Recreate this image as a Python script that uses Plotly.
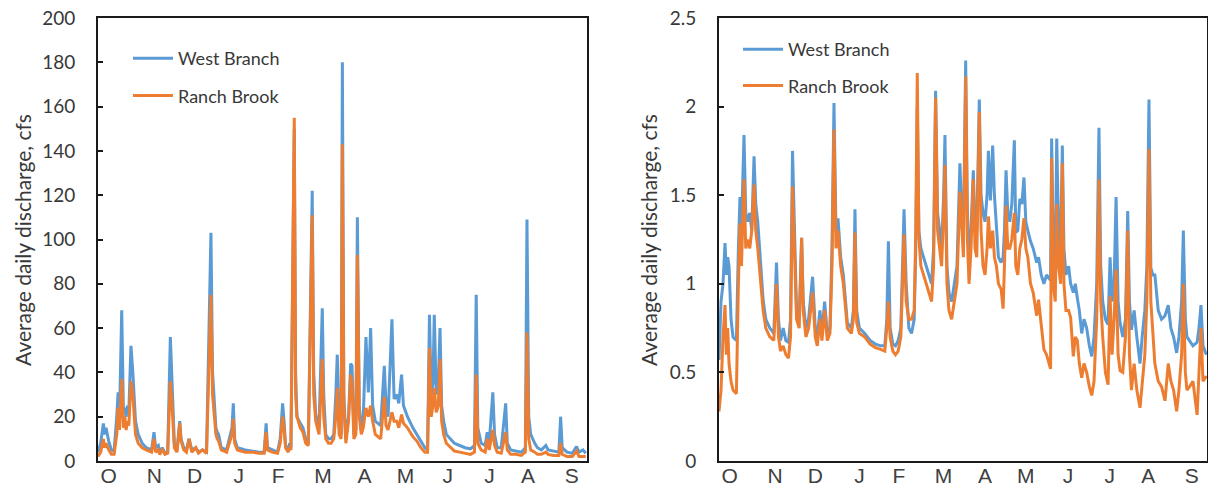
import plotly.graph_objects as go

# ---------------- data ----------------
months = ["O", "N", "D", "J", "F", "M", "A", "M", "J", "J", "A", "S"]
month_pos = [8, 42, 72, 105, 134.5, 168, 199, 229.5, 261, 292.3, 321, 353.6]

# left panel: average daily discharge (cfs), day of water year
left_day = [0, 2, 4, 5, 6, 8, 10, 12, 14, 15, 16, 17.7, 19, 20, 21, 22, 23, 24.6, 26, 28, 30, 33, 36, 40,
            41.8, 43, 45, 46, 48, 50, 52, 54, 55, 57, 59, 61, 62, 64, 66, 68, 70, 73, 75, 78, 81, 84.3,
            85.5, 87, 88, 89, 90, 92, 96, 100, 101, 102, 104, 110, 115, 120, 124, 125.5, 126.5, 130, 134,
            136, 137.8, 139, 140, 142, 143, 144, 146.5, 147.5, 148.5, 151, 153, 155, 157, 159.9, 161,
            162.5, 165, 167.4, 168.5, 170, 172, 174, 176, 177.5, 178.6, 180, 181.5, 182.4, 183.5, 185,
            187, 188.6, 189.6, 191, 192.5, 193.6, 195, 196.5, 198, 200, 201.8, 203.5, 205, 207, 209, 211,
            213.7, 215, 216.5, 219.4, 221, 223, 224.5, 226.6, 228, 231, 235, 238, 241, 244, 246, 247.4,
            248.7, 250, 251, 252.5, 254, 255.3, 256.5, 258, 260, 263, 266, 270, 274, 278, 281, 282.3,
            283.5, 286, 289, 290.5, 292, 294.7, 296, 298, 301, 304.3, 305.5, 308, 312, 316, 319, 320.2,
            321.5, 323, 326, 328, 331, 334.3, 336, 340, 344, 345.3, 346.5, 350, 354, 357.2, 359, 362, 364]
left_west = [4, 8, 17, 12, 15, 9, 5, 4.5, 20, 31, 18, 68, 22, 24, 20, 25, 22, 52, 40, 18, 12, 8, 6, 5,
             13, 6, 7, 4, 6, 3.5, 4, 56, 40, 8, 5, 18, 10, 6, 5, 10, 5, 6, 4, 5, 4, 103,
             40, 23, 15, 13, 12, 6, 5, 15, 26, 10, 6, 5, 4.5, 4, 4, 17, 6, 5, 4,
             10, 26, 17, 7, 5, 8, 6, 150, 40, 20, 17, 15, 10, 8, 122, 40,
             21, 15, 69, 30, 12, 10, 10, 12, 30, 48, 15, 12, 180, 30, 10,
             20, 44, 43, 12, 14, 110, 25, 15, 20, 56, 31, 60, 25, 18, 17, 16,
             43, 25, 20, 64, 28, 30, 26, 39, 25, 20, 15, 12, 9, 6, 5, 66,
             30, 35, 66, 30, 35, 60, 25, 18, 12, 10, 8, 7, 6, 5.5, 7, 75,
             15, 8, 7, 13, 8, 31, 12, 6, 6, 26, 8, 5, 4.5, 4, 6, 109,
             20, 12, 8, 6, 5, 7, 5, 4.5, 4, 20, 6, 4, 3.5, 6.5, 4, 5, 3.5]
left_ranch = [2, 4, 10, 6, 8, 5, 3, 3, 12, 24, 14, 37, 15, 20, 14, 18, 16, 36, 30, 12, 8, 6, 5, 4,
              10, 4, 5, 3, 5, 3, 3.5, 36, 28, 6, 4, 17, 9, 5, 4, 10, 4, 6, 3.5, 5, 3.5, 75,
              30, 18, 12, 10, 9, 5, 4, 12, 19, 8, 5, 4, 4, 3.5, 3.5, 13, 5, 4, 3.5,
              8, 20, 14, 6, 4, 6, 5, 155, 30, 20, 15, 13, 8, 7, 111, 30,
              18, 12, 46, 20, 10, 8, 8, 10, 20, 33, 12, 10, 143, 25, 8,
              18, 39, 35, 10, 12, 93, 20, 12, 15, 24, 20, 25, 18, 12, 11, 10,
              29, 16, 14, 22, 18, 18, 15, 21, 17, 15, 11, 9, 6, 4, 4, 51,
              20, 25, 33, 22, 25, 46, 18, 12, 8, 6, 4.5, 4, 3.5, 3, 4, 39,
              8, 5, 4, 10, 5, 14, 7, 4, 3.5, 13, 5, 3, 3, 2.5, 4, 58,
              10, 5, 4, 3, 3, 4, 3, 2.5, 2.5, 8, 3, 2, 2, 4.5, 2, 2, 2]

# right panel
right_day = [0, 1.5, 3, 4.5, 5.5, 6.5, 7.5, 9, 10.5, 13, 14.5, 15.7, 16.8, 18.7, 20, 21.5, 23, 24.5, 26.2,
             27.5, 29, 31, 33, 35, 38, 41, 43, 44.5, 46, 48, 50, 52, 53.5, 55, 56.5, 58, 60, 61.8, 63, 65,
             67, 70, 72, 73.5, 75.5, 77, 79, 81, 83, 84.5, 86, 87.5, 89, 91, 93, 96, 99, 100.5, 101.7,
             103, 105, 109, 113, 117, 121, 124, 125.5, 126.7, 128, 130, 132, 134, 136, 137.3, 138.4, 140,
             142, 144, 146, 147.2, 148.3, 149.5, 151, 153, 155, 157, 159, 160.5, 162, 163.5, 165, 166.5,
             168, 169, 170.5, 172, 174, 176, 178, 180.2, 181.5, 182.8, 184.5, 185.8, 187, 188.5, 190.2,
             191.5, 192.8, 194.7, 196, 197.5, 199, 200.5, 201.5, 203, 204.7, 206, 207.5, 209, 211, 212.5,
             213.5, 214.7, 216, 217.5, 219, 220.9, 222, 223.5, 225, 226.5, 228.1, 229.5, 231, 233, 235,
             237.6, 239, 241, 243, 245, 248, 248.8, 250, 251.5, 252.6, 254, 255.5, 256.8, 258, 259.5,
             261.5, 263, 265, 266.5, 268, 269.5, 271.3, 273, 275, 277, 278.8, 280.5, 282.5, 284.2, 285.5,
             287, 289, 291, 292.5, 294, 295.5, 297, 298.5, 300, 302, 304, 305.7, 307, 308.5, 310.5, 312.5,
             314.9, 316.5, 318.5, 320, 321.6, 323, 324.5, 326, 328.5, 331, 333.6, 336, 338, 340, 342.3,
             344, 346, 347.3, 348.8, 350, 352, 354.5, 357.6, 359, 360.5, 362, 364.5]
right_west = [0.57, 0.9, 1.0, 1.23, 1.05, 1.15, 1.1, 0.8, 0.7, 0.68, 1.2, 1.49, 1.3, 1.84, 1.4, 1.35, 1.4, 1.3, 1.72,
              1.45, 1.35, 1.1, 0.91, 0.8, 0.75, 0.72, 1.12, 0.8, 0.68, 0.75, 0.68, 0.67, 0.8, 1.75, 1.2, 0.85, 0.8, 1.26, 0.9, 0.75,
              0.8, 1.04, 0.75, 0.7, 0.85, 0.72, 0.9, 0.72, 0.75, 1.2, 2.02, 1.3, 1.37, 1.15, 1.05, 0.78, 0.75, 0.85, 1.42,
              0.85, 0.75, 0.72, 0.68, 0.66, 0.65, 0.65, 0.8, 1.24, 0.75, 0.66, 0.65, 0.68, 0.75, 1.1, 1.42, 1.0,
              0.75, 0.72, 0.8, 1.2, 2.0, 1.3, 1.2, 1.15, 1.1, 1.05, 1.0, 1.2, 2.09, 1.4, 1.3, 1.2,
              1.5, 1.84, 1.1, 0.95, 0.9, 1.0, 1.1, 1.68, 1.4, 1.25, 2.26, 1.4, 1.15, 1.3, 1.64,
              1.3, 1.3, 2.04, 1.5, 1.4, 1.35, 1.5, 1.75, 1.47, 1.78, 1.5, 1.3, 1.15, 1.12, 1.15,
              1.3, 1.64, 1.4, 1.35, 1.45, 1.81, 1.29, 1.3, 1.48, 1.45, 1.6, 1.35, 1.3, 1.24, 1.2,
              1.12, 1.15, 1.05, 1.0, 1.05, 1.02, 1.82, 1.2, 1.1, 1.82, 1.3, 1.2, 1.78, 1.2, 1.05,
              1.1, 1.0, 0.95, 1.0, 0.92, 0.85, 0.72, 0.8, 0.75, 0.65, 0.59, 0.7, 1.0, 1.88, 1.1,
              0.9, 0.8, 0.77, 1.15, 0.9, 1.0, 1.49, 0.9, 0.78, 0.7, 0.8, 1.41, 0.9, 0.74, 0.85, 0.7,
              0.55, 0.7, 0.85, 1.1, 2.04, 1.09, 1.05, 1.05, 0.85, 0.8, 0.82, 0.88, 0.75, 0.7, 0.61,
              0.7, 0.9, 1.30, 0.8, 0.7, 0.68, 0.65, 0.67, 0.75, 0.88, 0.65, 0.6]
right_ranch = [0.28, 0.4, 0.7, 0.88, 0.6, 0.75, 0.55, 0.45, 0.4, 0.38, 1.0, 1.34, 1.1, 1.59, 1.2, 1.25, 1.2, 1.3, 1.56,
               1.3, 1.2, 1.0, 0.85, 0.75, 0.7, 0.68, 1.0, 0.7, 0.62, 0.65, 0.6, 0.58, 0.7, 1.55, 1.1, 0.8, 0.75, 1.26, 0.85, 0.7,
               0.75, 0.95, 0.7, 0.65, 0.8, 0.68, 0.85, 0.68, 0.72, 1.1, 1.87, 1.2, 1.3, 1.1, 1.0, 0.75, 0.72, 0.8, 1.29,
               0.78, 0.72, 0.7, 0.66, 0.64, 0.63, 0.62, 0.75, 0.9, 0.7, 0.62, 0.6, 0.62, 0.7, 1.0, 1.28, 0.9,
               0.8, 0.8, 0.85, 1.3, 2.19, 1.26, 1.1, 1.05, 1.0, 0.95, 0.9, 1.1, 2.05, 1.3, 1.2, 1.1,
               1.4, 1.67, 1.0, 0.85, 0.8, 0.9, 1.0, 1.52, 1.3, 1.15, 2.17, 1.25, 1.0, 1.2, 1.59,
               1.2, 1.15, 1.97, 1.3, 1.1, 1.05, 1.2, 1.38, 1.2, 1.3, 1.15, 1.1, 1.0, 0.97, 0.86,
               1.1, 1.44, 1.2, 1.2, 1.25, 1.40, 1.1, 1.05, 1.2, 1.25, 1.37, 1.2, 1.15, 1.0, 0.95,
               0.82, 0.91, 0.75, 0.63, 0.6, 0.52, 1.71, 1.0, 0.9, 1.45, 1.1, 1.0, 1.68, 1.0, 0.85,
               0.85, 0.81, 0.59, 0.7, 0.68, 0.55, 0.47, 0.55, 0.5, 0.42, 0.37, 0.45, 0.8, 1.59, 0.9,
               0.7, 0.5, 0.43, 0.93, 0.6, 0.8, 1.08, 0.6, 0.51, 0.5, 0.7, 1.3, 0.6, 0.40, 0.55, 0.4,
               0.30, 0.45, 0.6, 0.9, 1.76, 0.9, 0.7, 0.55, 0.45, 0.42, 0.34, 0.55, 0.45, 0.4, 0.28,
               0.4, 0.6, 1.0, 0.5, 0.4, 0.42, 0.45, 0.26, 0.5, 0.75, 0.45, 0.48]

left_ticks = [0, 20, 40, 60, 80, 100, 120, 140, 160, 180, 200]
right_ticks = [0, 0.5, 1, 1.5, 2, 2.5]
right_tick_text = ["0", "0.5", "1", "1.5", "2", "2.5"]

BLUE = "#5B9BD5"
ORANGE = "#ED7D31"
W, H = 1208, 497


def px(xs):
    return xs / W


def py(ys):
    return (H - ys) / H


fig = go.Figure()
fig.add_trace(go.Scatter(x=left_day, y=left_west, mode="lines", name="West Branch",
                         line=dict(color=BLUE, width=3), xaxis="x", yaxis="y",
                         legend="legend", legendgroup="a"))
fig.add_trace(go.Scatter(x=left_day, y=left_ranch, mode="lines", name="Ranch Brook",
                         line=dict(color=ORANGE, width=3), xaxis="x", yaxis="y",
                         legend="legend", legendgroup="b"))
fig.add_trace(go.Scatter(x=right_day, y=right_west, mode="lines", name="West Branch",
                         line=dict(color=BLUE, width=3), xaxis="x2", yaxis="y2",
                         legend="legend2", legendgroup="c"))
fig.add_trace(go.Scatter(x=right_day, y=right_ranch, mode="lines", name="Ranch Brook",
                         line=dict(color=ORANGE, width=3), xaxis="x2", yaxis="y2",
                         legend="legend2", legendgroup="d"))

ydom = [py(461), py(18)]
tickfont = dict(family="Lato, 'Open Sans', sans-serif", size=19, color="#383838")
monthfont = dict(family="'Liberation Sans', Arial, sans-serif", size=21, color="#404040")
legfont = dict(family="Lato, sans-serif", size=18, color="#383838")
titlefont = dict(family="Lato, sans-serif", size=21, color="#383838")

common_x = dict(range=[0, 365], tickvals=month_pos, ticktext=months, ticks="", showgrid=False,
                zeroline=False, showline=True, linecolor="#1a1a1a", linewidth=2, mirror=True,
                tickfont=monthfont, automargin=False, fixedrange=True, ticklabelstandoff=-5,
                ticklabeloverflow="allow")
common_y = dict(showgrid=False, zeroline=False, showline=True, linecolor="#1a1a1a", linewidth=2,
                mirror=True, ticks="inside", ticklen=5, tickcolor="#1a1a1a", tickwidth=1.5,
                tickfont=tickfont, automargin=False, ticklabelstandoff=17, fixedrange=True,
                ticklabeloverflow="allow")

fig.update_layout(
    width=W, height=H,
    margin=dict(l=0, r=0, t=0, b=0),
    paper_bgcolor="white", plot_bgcolor="white",
    xaxis=dict(domain=[px(98), px(587)], anchor="y", **common_x),
    yaxis=dict(domain=ydom, anchor="x", range=[0, 200], tickvals=left_ticks, **common_y),
    xaxis2=dict(domain=[px(719), px(1207)], anchor="y2", **common_x),
    yaxis2=dict(domain=ydom, anchor="x2", range=[0, 2.5], tickvals=right_ticks,
                ticktext=right_tick_text, **common_y),
    legend=dict(x=px(128), y=py(40), xanchor="left", yanchor="top",
                bgcolor="rgba(0,0,0,0)", font=legfont, tracegroupgap=11, itemwidth=40),
    legend2=dict(x=px(738), y=py(31), xanchor="left", yanchor="top",
                 bgcolor="rgba(0,0,0,0)", font=legfont, tracegroupgap=10, itemwidth=40),
    annotations=[
        dict(text="Average daily discharge, cfs", x=px(22), y=py(240), xref="paper", yref="paper",
             xanchor="center", yanchor="middle", textangle=-90, showarrow=False, font=titlefont),
        dict(text="Average daily discharge, cfs", x=px(648), y=py(240), xref="paper", yref="paper",
             xanchor="center", yanchor="middle", textangle=-90, showarrow=False, font=titlefont),
    ],
    showlegend=True,
)

# remove the default 8px page margin so the figure sits at the window's top-left corner
fig.write_html("out.html", config={"displayModeBar": False},
               post_script="document.body.style.margin='0px';")
